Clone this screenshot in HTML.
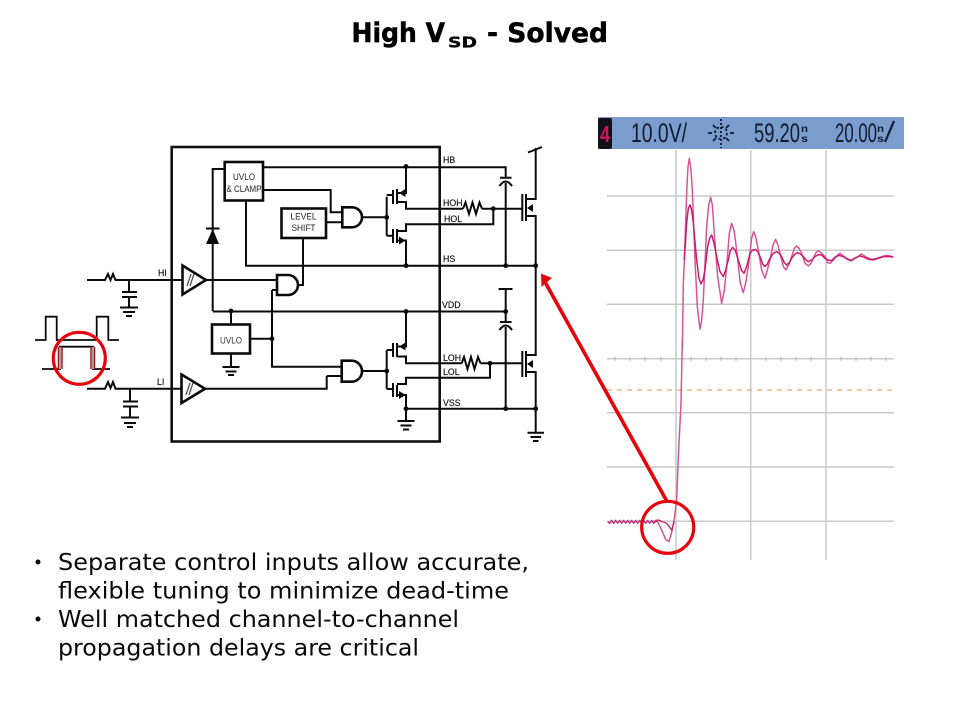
<!DOCTYPE html>
<html><head><meta charset="utf-8"><title>High VSD - Solved</title>
<style>
html,body{margin:0;padding:0;background:#fff;width:960px;height:720px;overflow:hidden}
svg{display:block}
text{font-family:"Liberation Sans",sans-serif}
.d{font-family:"DejaVu Sans",sans-serif}
.l{font-size:8.8px;fill:#111;stroke:#111;stroke-width:.15}
.w{fill:none;stroke:#0a0a0a;stroke-width:2}
.t{fill:none;stroke:#0a0a0a;stroke-width:2.6}
.g{stroke:#c9c9c9;stroke-width:1.5;fill:none}
</style></head><body>
<svg width="960" height="720" viewBox="0 0 960 720" xmlns="http://www.w3.org/2000/svg">
<rect width="960" height="720" fill="#fff"/>

<!-- Title -->
<g fill="#000" stroke="#000" stroke-width=".5">
<text class="d" x="351.5" y="42" font-size="26.5" font-weight="700" textLength="93.5" lengthAdjust="spacingAndGlyphs">High V</text>
<text class="d" x="448" y="47.5" font-size="15" font-weight="700" textLength="29" lengthAdjust="spacingAndGlyphs" stroke-width=".3">SD</text>
<text class="d" x="487" y="42" font-size="26.5" font-weight="700" textLength="121" lengthAdjust="spacingAndGlyphs">- Solved</text>
</g>

<!-- Bullets -->
<g fill="#0a0a0a" font-size="23">
<circle cx="38" cy="562" r="2.5"/><circle cx="38" cy="619" r="2.5"/>
<text class="d" x="58" y="570" textLength="471" lengthAdjust="spacingAndGlyphs">Separate control inputs allow accurate,</text>
<text class="d" x="58" y="598.5" textLength="451" lengthAdjust="spacingAndGlyphs">flexible tuning to minimize dead-time</text>
<text class="d" x="58" y="627" textLength="401" lengthAdjust="spacingAndGlyphs">Well matched channel-to-channel</text>
<text class="d" x="58" y="655.5" textLength="361" lengthAdjust="spacingAndGlyphs">propagation delays are critical</text>
</g>

<!-- IC box -->
<rect x="171.7" y="147" width="268" height="294.5" fill="none" stroke="#111" stroke-width="2.6"/>

<!-- Boxes -->
<rect x="224.7" y="162" width="38.3" height="38.5" class="t"/>
<text x="244" y="180" font-size="9" text-anchor="middle" fill="#222" textLength="22" lengthAdjust="spacingAndGlyphs">UVLO</text>
<text x="244" y="192" font-size="9" text-anchor="middle" fill="#222" textLength="35" lengthAdjust="spacingAndGlyphs">&amp; CLAMP</text>
<rect x="281.5" y="208.5" width="44.5" height="29.5" class="t"/>
<text x="303.5" y="219.5" font-size="9" text-anchor="middle" fill="#222" textLength="26" lengthAdjust="spacingAndGlyphs">LEVEL</text>
<text x="303.5" y="231" font-size="9" text-anchor="middle" fill="#222" textLength="24" lengthAdjust="spacingAndGlyphs">SHIFT</text>
<rect x="212" y="324.5" width="38" height="29" class="t"/>
<text x="231" y="343.5" font-size="9" text-anchor="middle" fill="#333" textLength="22" lengthAdjust="spacingAndGlyphs">UVLO</text>

<!-- Wires -->
<g class="w">
<path d="M225 169H212.7V311"/>
<path d="M246 200.5V265.7H536"/>
<path d="M263 167.3H505.7V177"/>
<path d="M263 190H330.7V212.3H342.3"/>
<path d="M326 222.3H342.3"/>
<path d="M303 238V285H298"/>
<path d="M212.7 311.5H505.7"/>
<path d="M231 311.5V324.5M231 353.5V367"/>
<path d="M250 338.7H272"/>
<path d="M272 290H277M272 290V366.7H341.7"/>
<path d="M326.7 376H341.7M326.7 376V388.7H205"/>
<path d="M206 280H277"/>
<!-- HI / LI inputs -->
<path d="M87 280H105L108 274L110.5 280L113 274L115.5 280L118 280H182"/>
<path d="M87 388.7H105L108 382L110.5 388L113 382L115.5 388.7H181"/>
<path d="M129 280V292M129 297V307.5"/>
<path d="M130 388.7V401.5M130 406.5V417.5"/>
<!-- upper driver -->
<path d="M362 217.3H386.7M386.7 196.7V235.7"/>
<path d="M386.7 195H393M393 190V204" />
<path d="M386.7 235.7H393M393 229V243"/>
<path d="M397 189V204M397 229V243"/>
<path d="M406 167V193H397M397 202H406V208.7H463"/>
<path d="M482 208.7H522"/>
<path d="M493.3 208.7V224.3H406V231H397"/>
<path d="M397 240.5H406V265.7"/>
<path d="M463 208.7L465.5 202.5L469 214L472.5 202.5L476 214L479.5 202.5L482 208.7"/>
<!-- lower driver -->
<path d="M362 371H386.7M386.7 350V389"/>
<path d="M386.7 350H393M393 343V357"/>
<path d="M386.7 389H393M393 383V397"/>
<path d="M397 343V357M397 385V397"/>
<path d="M406 311.5V346.5H397M397 356.5H406V363.3H461.7"/>
<path d="M480.5 363.3H522"/>
<path d="M461.7 363.3L464 357L467.5 369L471 357L474.5 369L478 357L480.5 363.3"/>
<path d="M490 363.3V377.7H406V384H397"/>
<path d="M397 395H406V421"/>
<path d="M406 408.7H535.7"/>
<!-- caps -->
<path d="M505.7 183V265.7"/>
<path d="M505.7 289V321M505.7 327V408.7"/>
<path d="M498.5 289H512.5"/>
<path d="M500 177.7H511.5M499.5 186Q505.7 177 512 186"/>
<path d="M500 322H511.5M499.5 330Q505.7 321 512 330"/>
<!-- external FETs -->
<path d="M522.3 194V221M526 194V221"/>
<path d="M526 199H535.7V148M528 152.5L542 147"/>
<path d="M526 216H535.7V355H526"/>
<path d="M522.3 351V377M526 351V377"/>
<path d="M526 372H535.7V432.7"/>
</g>

<!-- Grounds -->
<g stroke="#0a0a0a" stroke-width="2" fill="none">
<path d="M120 307.5H138M123 312H135M126 316H132"/>
<path d="M121 417.5H139M124 423H136M127 427H133"/>
<path d="M222.5 367H239.5M225.5 371.5H236.5M228 375H234"/>
<path d="M397.5 421H414.5M400.5 425.5H411.5M403 429.5H409"/>
<path d="M527.5 432.7H544M530.5 437H541M533 441H538.5"/>
<path d="M122 292H137M122 297H137"/>
<path d="M123 401.5H138M123 406.5H138"/>
</g>

<!-- Comparators -->
<path d="M182.5 265.5L206 280L182.5 294.5Z" fill="#fff" stroke="#0a0a0a" stroke-width="2.6"/>
<path d="M181.5 374.5L205 388.7L181.5 403Z" fill="#fff" stroke="#0a0a0a" stroke-width="2.6"/>
<path d="M187 286L191 274M190 286L194 274M186 395L190 383M189 395L193 383" stroke="#555" stroke-width="1.3"/>

<!-- AND gates -->
<g fill="#fff" stroke="#0a0a0a" stroke-width="2.6">
<path d="M277 275H288A10 10 0 0 1 288 295H277Z"/>
<path d="M342.3 207.3H352A10 10 0 0 1 352 227.3H342.3Z"/>
<path d="M341.7 360.7H351.5A10.5 10.5 0 0 1 351.5 381.7H341.7Z"/>
</g>

<!-- Diode -->
<path d="M206 244H219L212.7 229Z" fill="#0a0a0a"/>
<path d="M206 228.5H219.5" stroke="#0a0a0a" stroke-width="2"/>

<!-- FET arrows -->
<g fill="#0a0a0a">
<path d="M399 193L405.5 189V197Z"/>
<path d="M405.5 240.5L399 236.5V244.5Z"/>
<path d="M399 346.5L405.5 342.5V350.5Z"/>
<path d="M405.5 395L399 391V399Z"/>
<path d="M527 208L533 204V212Z"/>
<path d="M527 364L533 360V368Z"/>
<!-- dots -->
<circle cx="406" cy="166.5" r="2.4"/><circle cx="386.7" cy="217.3" r="2.4"/><circle cx="386.7" cy="371" r="2.4"/>
<circle cx="493.3" cy="208.7" r="2.4"/><circle cx="490" cy="363.3" r="2.4"/>
<circle cx="406" cy="265.7" r="2.4"/><circle cx="505.7" cy="265.7" r="2.4"/><circle cx="535.7" cy="265.7" r="2.4"/>
<circle cx="231" cy="311" r="2.4"/><circle cx="406" cy="311.5" r="2.4"/><circle cx="505.7" cy="311.5" r="2.4"/>
<circle cx="272" cy="338.7" r="2.4"/>
<circle cx="406" cy="408.7" r="2.4"/><circle cx="505.7" cy="408.7" r="2.4"/><circle cx="535.7" cy="408.7" r="2.4"/>
</g>

<!-- Pin labels -->
<text class="l" x="443" y="163">HB</text>
<text class="l" x="443" y="206">HOH</text>
<text class="l" x="444" y="222">HOL</text>
<text class="l" x="443" y="262">HS</text>
<text class="l" x="442" y="308">VDD</text>
<text class="l" x="443" y="361">LOH</text>
<text class="l" x="443" y="375">LOL</text>
<text class="l" x="443" y="406">VSS</text>
<text class="l" x="158" y="276">HI</text>
<text class="l" x="157" y="385">LI</text>

<!-- Pulses -->
<path d="M35 340H45.7V316.7H56.7V340H96.7V316.7H108.3V340H119" fill="none" stroke="#0a0a0a" stroke-width="1.8"/>
<path d="M42 369H60V346.7H93V369H110" fill="none" stroke="#0a0a0a" stroke-width="1.8"/>
<path d="M58.5 369V347M62 369V347M91 369V347M94.5 369V347" stroke="#a01818" stroke-width="1.5"/>
<path d="M60 369V347M93 369V347" stroke="#fff" stroke-width="1"/>
<circle cx="79.3" cy="358.3" r="26" fill="none" stroke="#e8000b" stroke-width="3.2"/>

<!-- Scope -->
<rect x="598" y="117" width="306" height="32" fill="#7b9dce"/>
<rect x="598" y="118" width="14" height="31" rx="2" fill="#14101a"/>
<text x="605" y="142" font-size="23" text-anchor="middle" fill="#d4145a" font-weight="700" textLength="10" lengthAdjust="spacingAndGlyphs">4</text>
<g fill="#0d1a30">
<text x="631" y="142" font-size="27" textLength="56" lengthAdjust="spacingAndGlyphs">10.0V/</text>
<text x="754" y="142" font-size="27" textLength="46" lengthAdjust="spacingAndGlyphs">59.20</text>
<text x="801" y="132" font-size="10" font-weight="700" textLength="7" lengthAdjust="spacingAndGlyphs">n</text>
<text x="801" y="142" font-size="10" font-weight="700" textLength="7" lengthAdjust="spacingAndGlyphs">s</text>
<text x="835" y="142" font-size="27" textLength="42" lengthAdjust="spacingAndGlyphs">20.00</text>
<text x="877" y="132" font-size="10" font-weight="700" textLength="7" lengthAdjust="spacingAndGlyphs">n</text>
<text x="877" y="142" font-size="10" font-weight="700" textLength="7" lengthAdjust="spacingAndGlyphs">s</text>
<path d="M885 142L894 121" stroke="#0d1a30" stroke-width="2.2" fill="none"/>
</g>
<g stroke="#0d1a30" stroke-width="1.8" fill="none">
<path d="M721 119V148" stroke-dasharray="2 2"/>
<path d="M708 133H712M730 133H734M713 125L716 128M726 138L729 141M729 125L726 128M716 138L713 141"/>
<circle cx="721" cy="133" r="6" stroke-dasharray="2.5 2.2"/>
</g>

<!-- Grid -->
<g class="g">
<path d="M607 196H894M607 250.3H894M607 304.3H894M607 358.7H894M607 412.7H894M607 467H894M607 521.3H894"/>
<path d="M750.7 150V560M826 150V560"/>
</g>
<path d="M676 150V560" stroke="#bccbd0" stroke-width="1.5"/>
<path d="M615 356.5V361M630 356.5V361M645 356.5V361M661 356.5V361M691 356.5V361M706 356.5V361M721 356.5V361M736 356.5V361M766 356.5V361M781 356.5V361M796 356.5V361M811 356.5V361M841 356.5V361M856 356.5V361M871 356.5V361M886 356.5V361" stroke="#bbb" stroke-width="1"/>
<path d="M607 390H894" stroke="#f0a860" stroke-width="1.2" stroke-dasharray="5 5"/>

<!-- Waveforms (zoom coordinates) -->
<g transform="translate(595 110) scale(.3333)" fill="none" stroke-linejoin="round">
<polyline stroke="#d9528f" stroke-width="4.4" points="262,720 265,520 268,450 275,250 279,170 283,145 288,180 292,240 300,450 307,590 315,658 320,630 325,570 335,350 341,285 347,262 352,285 358,370 368,500 380,580 388,540 395,470 403,370 410,340 417,360 425,420 436,520 445,548 452,520 460,470 470,385 476,365 482,380 490,420 500,480 510,505 517,480 525,450 534,405 542,388 549,405 555,430 565,470 573,480 581,465 590,440 598,415 605,408 612,415 620,430 630,460 640,468 648,460 655,445 663,428 670,422 680,430 690,440 698,458 705,460 715,450 725,438 735,430 745,438 755,445 770,452 785,442 800,432 815,442 830,448 845,445 860,440 875,436 895,440"/>
<polyline stroke="#c9196e" stroke-width="4.4" points="268,450 275,340 280,295 285,285 290,300 295,340 305,450 312,505 318,522 324,510 330,480 338,410 345,382 350,375 357,400 365,440 375,485 385,500 392,480 400,450 406,422 413,412 420,420 430,450 440,482 447,490 455,470 465,430 473,420 482,418 490,428 495,440 503,462 510,470 517,462 525,445 535,430 545,425 553,430 560,440 568,458 575,465 583,458 590,445 600,432 608,428 616,432 625,440 633,450 640,455 650,450 660,440 670,434 680,435 690,445 700,450 710,452 720,442 732,436 745,440 757,448 768,452 780,444 795,438 808,442 820,448 835,450 850,445 865,440 880,440 895,441"/>
</g>
<g transform="translate(595 340) scale(.3333)" fill="none" stroke-linejoin="round">
<polyline stroke="#d9528f" stroke-width="4.4" points="262,0 258,190 250,350 245,480 240,520 232,570 222,605 212,598 200,570 185,540 172,547"/>
<polyline stroke="#b8246f" stroke-width="4" points="38,545 44,550 50,541 56,550 62,541 68,550 74,541 80,550 86,541 92,550 98,541 104,550 110,541 116,550 122,541 128,550 134,541 140,550 146,541 152,550 158,541 164,550 170,541 176,550 182,545 190,540 215,550 230,570 238,545"/>
</g>

<!-- Red callout -->
<path d="M666.5 500.5L545 282" fill="none" stroke="#e8000b" stroke-width="3.6"/>
<path d="M541 273.5L541.5 287L546 283L552 278Z" fill="#e8000b"/>
<circle cx="667.7" cy="527.3" r="26" fill="none" stroke="#e8000b" stroke-width="3.2"/>
</svg>
</body></html>
